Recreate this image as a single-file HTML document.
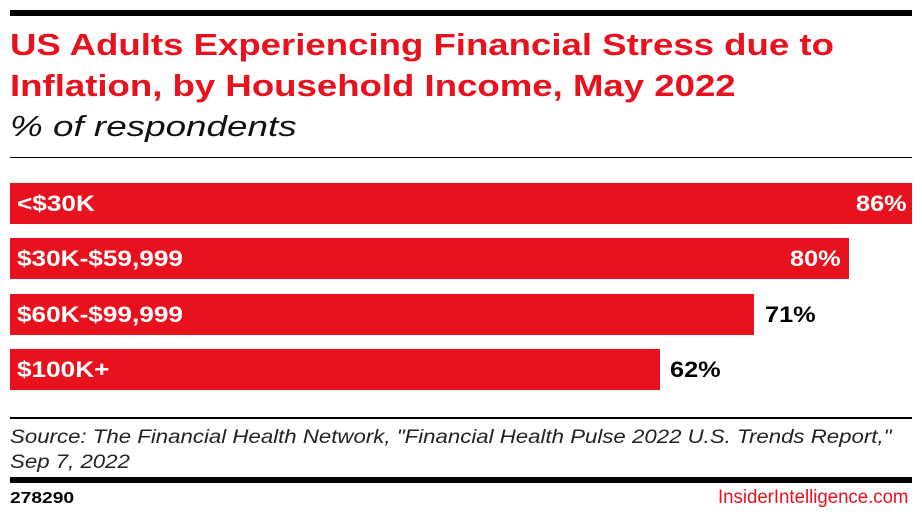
<!DOCTYPE html>
<html><head><meta charset="utf-8"><style>
body{margin:0;width:922px;height:519px;background:#fff;font-family:"Liberation Sans",sans-serif;position:relative;overflow:hidden}
.a{position:absolute;white-space:nowrap;transform-origin:0 0}
.bar{position:absolute;left:10px;height:41px;background:#e8111e}
.lab{position:absolute;left:17px;color:#fff;font-weight:bold;font-size:22px;line-height:41px;transform:scaleX(1.19);transform-origin:0 0;white-space:nowrap}
.val{position:absolute;font-weight:bold;font-size:22px;line-height:41px;transform:scaleX(1.15);transform-origin:0 0}
</style></head><body>
<div class="a" style="left:10px;top:10px;width:902px;height:6px;background:#000"></div>
<div class="a" style="left:10px;top:24px;color:#e8111e;font-weight:bold;font-size:31px;line-height:41px;transform:scaleX(1.18)">US Adults Experiencing Financial Stress due to<br>Inflation, by Household Income, May 2022</div>
<div class="a" style="left:10px;top:111px;font-style:italic;font-size:29px;color:#111;transform:scaleX(1.27)">% of respondents</div>
<div class="a" style="left:10px;top:157px;width:902px;height:1px;background:#000"></div>
<div class="bar" style="top:183px;width:902px"></div><div class="lab" style="top:183px">&lt;$30K</div><div class="val" style="top:183px;left:856px;color:#fff">86%</div>
<div class="bar" style="top:238px;width:839px"></div><div class="lab" style="top:238px">$30K-$59,999</div><div class="val" style="top:238px;left:790px;color:#fff">80%</div>
<div class="bar" style="top:294px;width:744px"></div><div class="lab" style="top:294px">$60K-$99,999</div><div class="val" style="top:294px;left:765px;color:#000">71%</div>
<div class="bar" style="top:349px;width:650px"></div><div class="lab" style="top:349px">$100K+</div><div class="val" style="top:349px;left:670px;color:#000">62%</div>
<div class="a" style="left:10px;top:417px;width:902px;height:2px;background:#000"></div>
<div class="a" style="left:10px;top:425px;font-style:italic;font-size:19px;line-height:25px;color:#222;transform:scaleX(1.17)">Source: The Financial Health Network, "Financial Health Pulse 2022 U.S. Trends Report,"<br>Sep 7, 2022</div>
<div class="a" style="left:10px;top:477px;width:902px;height:6px;background:#000"></div>
<div class="a" style="left:10px;top:488px;font-weight:bold;font-size:16px;line-height:22px;transform:scaleX(1.2)">278290</div>
<div class="a" style="left:718px;top:486px;font-size:19px;line-height:24px;color:#e8111e;transform:scaleX(0.98)">InsiderIntelligence.com</div>
</body></html>
